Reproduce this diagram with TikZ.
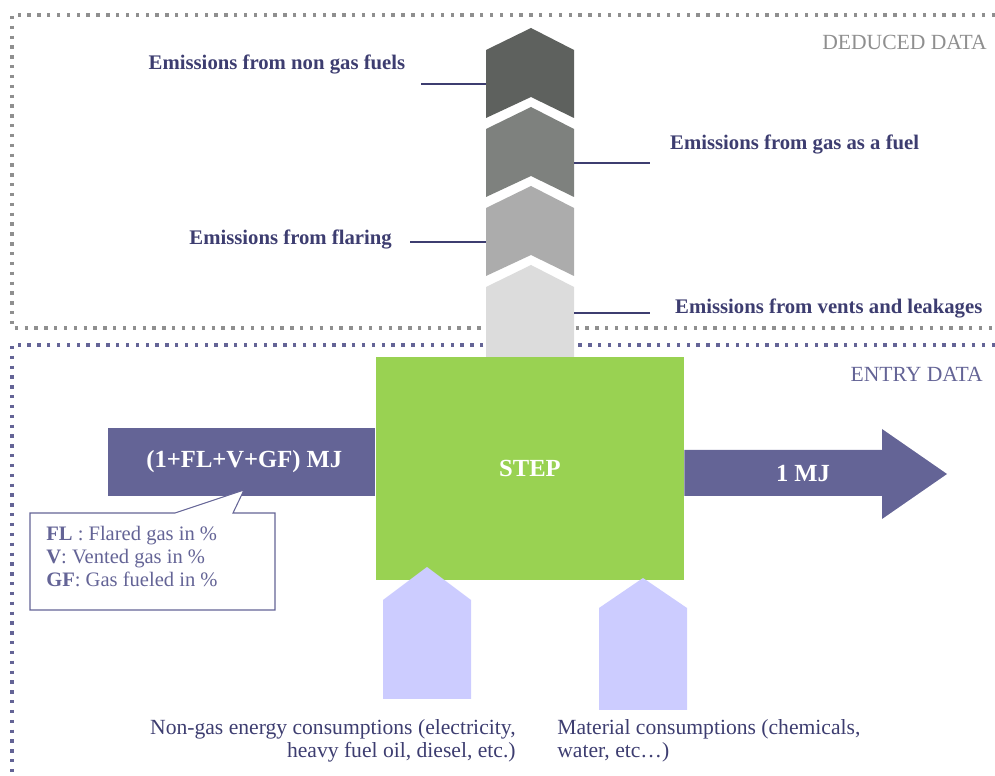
\documentclass[tikz,border=0pt]{standalone}
\usepackage{fontspec}
\setmainfont{Liberation Serif}
\usetikzlibrary{calc}
\definecolor{Ink}{HTML}{3D3D70}
\definecolor{Grey}{HTML}{8F8F8F}
\definecolor{Flow}{HTML}{646496}
\definecolor{Leaf}{HTML}{99D252}
\definecolor{Lilac}{HTML}{CCCCFF}
\definecolor{ChevA}{HTML}{5E615E}
\definecolor{ChevB}{HTML}{7E817E}
\definecolor{ChevC}{HTML}{ACACAC}
\definecolor{ChevD}{HTML}{DCDCDC}
\begin{document}
\begin{tikzpicture}[x=0.02cm,y=-0.02cm,
  frame/.style={line width=1.9pt,dash pattern=on 1.9pt off 3.7pt},
  lab/.style={font=\bfseries\fontsize{11.8}{13}\selectfont,text=Ink},
  lead/.style={Ink,line width=1.1pt},
  flowtxt/.style={font=\bfseries\fontsize{14}{16}\selectfont,text=white}]
\useasboundingbox (0,0) rectangle (995,776);
% the two zones
\draw[frame,Grey] (995,15) -- (12,15) -- (12,328) -- (995,328);
\draw[frame,Flow] (995,345) -- (12,345) -- (12,776);
\node[anchor=east,text=Grey,font=\fontsize{12.3}{14}\selectfont] (deduced) at (993,42) {DEDUCED DATA};
\node[anchor=east,text=Flow,font=\fontsize{12.3}{14}\selectfont] (entry) at (989,374) {ENTRY DATA};
% emission chevrons
\foreach \i/\c in {0/ChevA,1/ChevB,2/ChevC} {\fill[\c] (486,50+79*\i) -- (531,28+79*\i) -- (574,50+79*\i) -- (574,118+79*\i) -- (531,97+79*\i) -- (486,118+79*\i) -- cycle;}
\fill[ChevD] (486,287) -- (531,265) -- (574,287) -- (574,357) -- (486,357) -- cycle;
\node[lab] (nongas) at (277,64) {Emissions from non gas fuels};
\node[lab,anchor=west] (gasfuel) at (664,144) {Emissions from gas as a fuel};
\node[lab,anchor=east] (flaring) at (398,239) {Emissions from flaring};
\node[lab,anchor=west] (vents) at (669,308) {Emissions from vents and leakages};
\coordinate (nongasA) at (421,84); \coordinate (nongasB) at (486,84);
\coordinate (gasfuelA) at (574,163); \coordinate (gasfuelB) at (650,163);
\coordinate (flaringA) at (410,242); \coordinate (flaringB) at (486,242);
\coordinate (ventsA) at (574,313); \coordinate (ventsB) at (650,313);
\foreach \n in {nongas,gasfuel,flaring,vents} {\draw[lead] (\n A) -- (\n B);}
% the step and its flows
\node[fill=Leaf,minimum width=6.16cm,minimum height=4.46cm,inner sep=0pt,flowtxt] (step) at (530,468.5) {STEP};
\node[fill=Flow,minimum width=5.34cm,minimum height=1.36cm,inner sep=0pt,anchor=east,flowtxt] (inflow) at (step.west |- 0,462) {\hspace*{0.1cm}(1+FL+V+GF) MJ};
\fill[Flow] (step.east |- 0,450) -- (882,450) -- (882,429) -- (947,474) -- (882,519) -- (882,496) -- (step.east |- 0,496) -- cycle;
\node[flowtxt] (outflow) at (803,474) {1 MJ};
% legend callout
\draw[Flow,fill=white,line width=0.6pt] (30,513) -- (175,513) -- (244,490) -- (233,513) -- (275,513) -- (275,610) -- (30,610) -- cycle;
\node[anchor=north west,align=left,text=Flow,font=\fontsize{11.7}{13}\selectfont,inner sep=0pt] (legend) at (46,526) {\textbf{FL} : Flared gas in \%\\\textbf{V}: Vented gas in \%\\\textbf{GF}: Gas fueled in \%};
% consumptions
\fill[Lilac] (383,699) -- (383,600) -- (427,567) -- (471,600) -- (471,699) -- cycle;
\fill[Lilac] (599,710) -- (599,608) -- (643,578) -- (687,608) -- (687,710) -- cycle;
\node[anchor=north east,align=right,text=Ink,font=\fontsize{12.3}{13}\selectfont,inner sep=0pt] (energy) at (516,719) {Non-gas energy consumptions (electricity,\\heavy fuel oil, diesel, etc.)};
\node[anchor=north west,align=left,text=Ink,font=\fontsize{12.3}{13}\selectfont,inner sep=0pt] (material) at (557,719) {Material consumptions (chemicals,\\water, etc…)};
\end{tikzpicture}
\end{document}
